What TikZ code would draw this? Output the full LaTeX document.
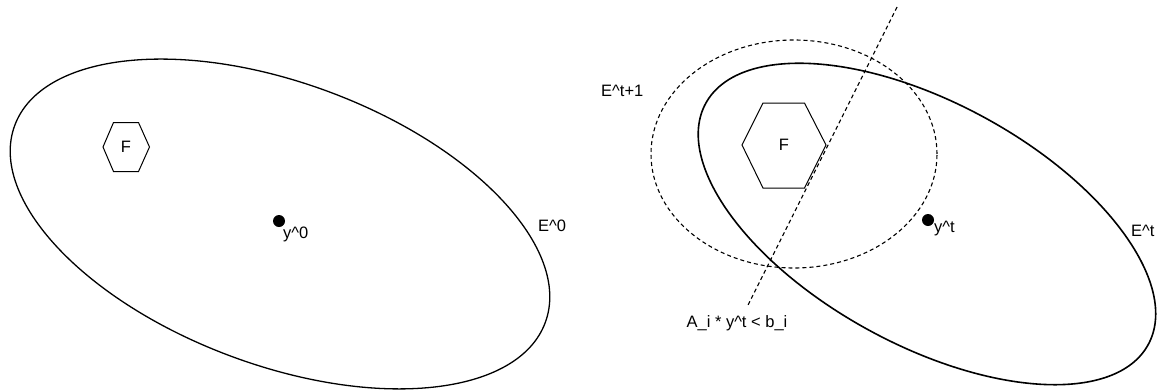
\documentclass[tikz,border=0pt]{standalone}
\usepackage{fontspec}
\setmainfont{Liberation Sans}
\usetikzlibrary{calc,positioning}

\begin{document}
\begin{tikzpicture}[x=1pt,y=1pt,font=\fontsize{16.5}{19}\selectfont]
  \useasboundingbox (0,0) rectangle (1157,-389);
  \tikzset{
    curve/.style={line width=1.3pt},
    cut/.style={line width=1.1pt,dash pattern=on 4pt off 3pt},
    lbl/.style={inner sep=0pt,anchor=west}
  }

  % left: E^0
  \coordinate (Y0) at (280,-224);
  \draw[curve,rotate around={-20.4:(Y0)}] (Y0) ellipse (283 and 141);
  \node (F0) at (126,-147) {F};
  \draw[line width=1pt] (F0.center) ++(-23,0) -- ++(10.5,24.5) -- ++(25,0) -- ++(11,-24.5)
    -- ++(-11,-24.5) -- ++(-25,0) -- cycle;
  \fill (279,-221) circle (6) coordinate (D0);
  \node[lbl] (y0) at (283,-234) {y\textasciicircum 0};
  \node[lbl] (E0) at (538,-226) {E\textasciicircum 0};

  % right: E^t and E^t+1
  \coordinate (Yt) at (927,-224);
  \draw[curve,line width=1.6pt,rotate around={-28.6:(Yt)}] (Yt) ellipse (252 and 121);
  \coordinate (Yn) at (794,-154);
  \draw[cut] (Yn) ellipse (143 and 114);
  \coordinate (L1) at (897,-7);
  \coordinate (L2) at (748,-305);
  \draw[cut] (L1) -- (L2);
  \node (F1) at (784,-145) {F};
  \draw[line width=1pt] (F1.center) ++(-42,0) -- ++(21,42) -- ++(41.5,0) -- ++(21.5,-42)
    -- ++(-21.5,-43) -- ++(-41.5,0) -- cycle;
  \fill (928,-220) circle (6) coordinate (Dt);
  \node[lbl] (yt) at (934,-229) {y\textasciicircum t};
  \node[lbl] (Et) at (1131,-231) {E\textasciicircum t};
  \node[lbl] (En) at (601,-91) {E\textasciicircum t+1};
  \node (ineq) at (737,-323) {A\_i * y\textasciicircum t < b\_i};
\end{tikzpicture}
\end{document}
